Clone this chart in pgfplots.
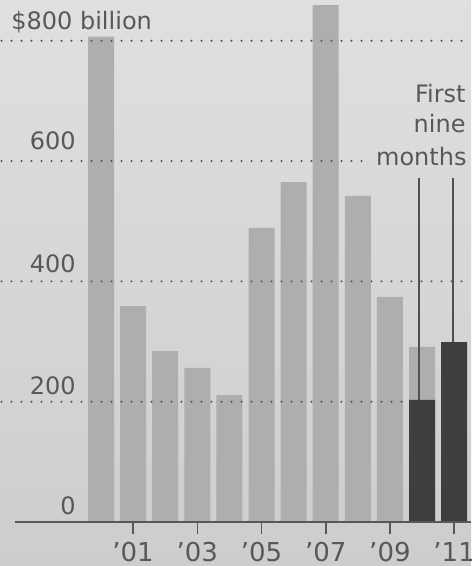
\documentclass[border=0pt]{standalone}
\usepackage{pgfplots}
\pgfplotsset{compat=1.18}
\usepackage{fontspec}
\setmainfont{DejaVu Sans}
\definecolor{paper}{HTML}{D8D8D8}
\definecolor{paperdark}{HTML}{CDCDCD}
\definecolor{lightbar}{HTML}{AEAEAE}
\definecolor{darkbar}{HTML}{3E3E3E}
\definecolor{ink}{HTML}{585858}
\definecolor{griddot}{HTML}{505050}
\begin{document}
\begin{tikzpicture}
\useasboundingbox (0,-22pt) rectangle (235.5pt,261pt);
\shade[top color=paper!80!white, bottom color=paperdark] (0,-22pt) rectangle (235.5pt,261pt);
\begin{axis}[
  at={(0,0)}, anchor=south west,
  scale only axis, width=235.5pt, height=261pt,
  xmin=1996.853, xmax=2011.526, ymin=0, ymax=867.7,
  axis x line*=bottom, axis y line=none,
  x axis line style={draw=none},
  xtick={2001,2003,2005,2007,2009,2011},
  xticklabels={’01,’03,’05,’07,’09,’11},
  tick align=outside, major tick length=6pt,
  xtick style={draw=ink, line width=0.8pt},
  xticklabel style={font=\fontsize{13}{15}\selectfont, text=ink, anchor=north, yshift=-0.5pt},
  ytick=\empty,
  clip=false,
]
\addplot[ybar, bar width=0.81, fill=lightbar, draw=none] coordinates {
  (2000,807) (2001,359) (2002,284) (2003,256) (2004,211) (2005,489)
  (2006,565) (2007,859) (2008,542) (2009,374) (2010,291)};
\addplot[ybar, bar width=0.81, fill=darkbar, draw=none] coordinates {
  (2010,203) (2011,299)};
% leader lines
\addplot[draw=griddot, line width=0.7pt] coordinates {(2009.906,203) (2009.906,572)};
\addplot[draw=griddot, line width=0.7pt] coordinates {(2010.966,299) (2010.966,572)};
% dotted gridlines
\addplot[draw=griddot, line width=1.1pt, line cap=round, dash pattern=on 0pt off 5pt] coordinates {(1996.9,200) (2009.4,200)};
\addplot[draw=griddot, line width=1.1pt, line cap=round, dash pattern=on 0pt off 5pt] coordinates {(1996.9,400) (2011.52,400)};
\addplot[draw=griddot, line width=1.1pt, line cap=round, dash pattern=on 0pt off 5pt] coordinates {(1996.9,600) (2008.35,600)};
\addplot[draw=griddot, line width=1.1pt, line cap=round, dash pattern=on 0pt off 5pt] coordinates {(1996.9,800) (2011.52,800)};
% baseline
\addplot[draw=ink, line width=1pt] coordinates {(1997.32,0) (2011.526,0)};
% y labels
\node[anchor=base east, text=ink, font=\fontsize{12}{14}\selectfont, inner sep=0pt] at (axis cs:1999.22,12) {0};
\node[anchor=base east, text=ink, font=\fontsize{12}{14}\selectfont, inner sep=0pt] at (axis cs:1999.22,212) {200};
\node[anchor=base east, text=ink, font=\fontsize{12}{14}\selectfont, inner sep=0pt] at (axis cs:1999.22,414) {400};
\node[anchor=base east, text=ink, font=\fontsize{12}{14}\selectfont, inner sep=0pt] at (axis cs:1999.22,620) {600};
\node[anchor=base west, text=ink, font=\fontsize{12}{14}\selectfont, inner sep=0pt] at (axis cs:1997.196,818) {\$800 billion};
% annotation
\node[anchor=base east, text=ink, font=\fontsize{12}{14}\selectfont, inner sep=0pt] at (axis cs:2011.37,698) {First};
\node[anchor=base east, text=ink, font=\fontsize{12}{14}\selectfont, inner sep=0pt] at (axis cs:2011.37,647) {nine};
\node[anchor=base east, text=ink, font=\fontsize{12}{14}\selectfont, inner sep=0pt] at (axis cs:2011.40,593) {months};
\end{axis}
\end{tikzpicture}
\end{document}
